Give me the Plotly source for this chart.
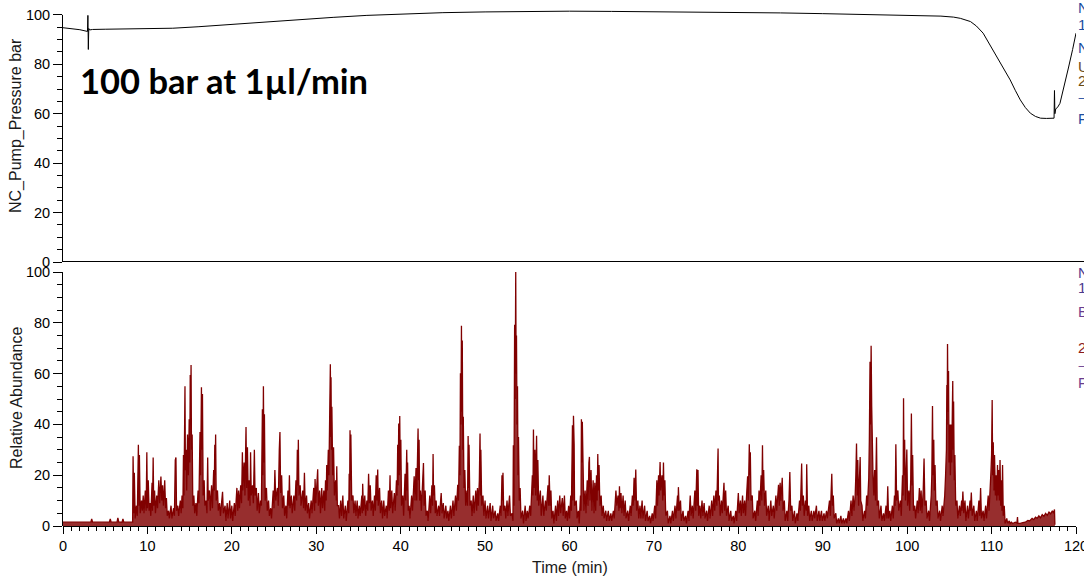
import plotly.graph_objects as go

# ---------------- data ----------------
# NC pump pressure (bar) vs time (min)
press_rt = [0, 1, 2, 2.9, 2.95, 3.0, 3.05, 3.15, 3.5, 5, 8, 10, 13, 16, 20, 24, 28, 32, 36, 40,
            45, 50, 55, 60, 65, 70, 75, 80, 85, 90, 95, 99, 102, 104, 105.5, 106.3, 107.5, 108.2,
            109.0, 109.8, 110.6, 111.4, 112.2, 112.8, 113.4, 114.0, 114.6, 115.2, 115.8, 116.5,
            117.4, 117.45, 117.5, 117.6, 117.8, 118.1, 118.6, 119.1, 119.6, 120]
press_bar = [94.8, 94.5, 94.0, 93.3, 99.8, 86.0, 94.5, 93.9, 94.1, 94.2, 94.3, 94.4, 94.6, 95.2,
             96.2, 97.2, 98.0, 99.0, 99.8, 100.4, 100.9, 101.2, 101.4, 101.5, 101.4, 101.3, 101.2,
             101.0, 100.8, 100.5, 100.2, 100.0, 99.8, 99.5, 99.1, 98.6, 97.3, 95.5, 92.6, 88.0,
             83.1, 78.3, 73.7, 69.5, 65.6, 62.5, 60.2, 58.9, 58.2, 58.1, 58.2, 69.4, 60, 62, 62.5,
             64.2, 71, 78.5, 86, 92.6]

# Base peak chromatogram (relative abundance) vs time (min)
chrom_rt = [
    0, 3.3, 3.4, 3.5, 5.5, 5.6, 5.7, 6.4, 6.5, 6.6, 7.0, 7.1, 7.2, 8.2,
    8.25, 8.3, 8.4, 8.45, 8.55, 8.7, 8.8, 8.93, 9.0, 9.05,
    9.15, 9.3, 9.4, 9.5, 9.6, 9.75, 9.85, 9.93, 10.0, 10.1,
    10.2, 10.3, 10.4, 10.55, 10.6, 10.68, 10.75, 10.85, 10.95, 11.1,
    11.2, 11.35, 11.45, 11.6, 11.7, 11.8, 11.9, 12.05, 12.15, 12.25,
    12.35, 12.5, 12.6, 12.8, 12.9, 13.1, 13.2, 13.3, 13.38, 13.45,
    13.6, 13.7, 13.9, 14.0, 14.1, 14.2, 14.27, 14.33, 14.45, 14.5,
    14.6, 14.65, 14.75, 14.85, 14.95, 15.02, 15.07, 15.12, 15.17, 15.22,
    15.3, 15.38, 15.5, 15.6, 15.75, 15.85, 16.0, 16.1, 16.23, 16.3,
    16.4, 16.45, 16.52, 16.6, 16.72, 16.8, 16.95, 17.05, 17.14, 17.2,
    17.35, 17.45, 17.6, 17.7, 17.85, 17.92, 17.98, 18.02, 18.08, 18.15,
    18.3, 18.4, 18.55, 18.65, 18.9, 19.0, 19.2, 19.3, 19.45, 19.55,
    19.75, 19.85, 20.0, 20.1, 20.3, 20.4, 20.6, 20.7, 20.8, 20.9,
    21.05, 21.15, 21.25, 21.3, 21.45, 21.55, 21.68, 21.75, 21.85, 21.95,
    22.05, 22.15, 22.22, 22.3, 22.45, 22.55, 22.67, 22.75, 22.9, 23.0,
    23.15, 23.25, 23.4, 23.5, 23.62, 23.68, 23.74, 23.8, 23.86, 23.95,
    24.1, 24.2, 24.35, 24.45, 24.6, 24.7, 24.9, 25.0, 25.1, 25.2,
    25.4, 25.5, 25.62, 25.7, 25.78, 25.9, 26.0, 26.15, 26.25, 26.4,
    26.5, 26.65, 26.75, 26.82, 26.9, 27.05, 27.15, 27.35, 27.45, 27.6,
    27.68, 27.76, 27.82, 27.88, 27.95, 28.1, 28.2, 28.4, 28.5, 28.6,
    28.7, 28.85, 28.95, 29.1, 29.2, 29.4, 29.5, 29.7, 29.8, 29.86,
    29.95, 30.06, 30.17, 30.25, 30.4, 30.5, 30.65, 30.75, 30.9, 31.0,
    31.1, 31.18, 31.24, 31.3, 31.43, 31.5, 31.55, 31.6, 31.67, 31.72,
    31.75, 31.8, 31.85, 31.95, 32.05, 32.15, 32.3, 32.38, 32.43, 32.5,
    32.65, 32.75, 32.9, 33.0, 33.15, 33.25, 33.45, 33.55, 33.75, 33.85,
    33.9, 33.95, 34.0, 34.05, 34.1, 34.2, 34.35, 34.45, 34.6, 34.7,
    34.85, 34.95, 35.1, 35.2, 35.4, 35.45, 35.5, 35.6, 35.75, 35.85,
    36.0, 36.1, 36.2, 36.3, 36.4, 36.5, 36.65, 36.75, 36.9, 37.0,
    37.1, 37.2, 37.28, 37.35, 37.5, 37.6, 37.75, 37.85, 38.0, 38.1,
    38.3, 38.4, 38.55, 38.65, 38.74, 38.8, 38.95, 39.05, 39.25, 39.35,
    39.5, 39.58, 39.65, 39.7, 39.77, 39.83, 39.89, 39.95, 40.02, 40.1,
    40.25, 40.35, 40.52, 40.6, 40.72, 40.78, 40.82, 40.9, 41.0, 41.1,
    41.3, 41.4, 41.6, 41.7, 41.82, 41.9, 42.06, 42.12, 42.18, 42.25,
    42.35, 42.45, 42.7, 42.78, 42.9, 43.0, 43.15, 43.25, 43.45, 43.55,
    43.7, 43.78, 43.84, 43.9, 44.0, 44.1, 44.2, 44.3, 44.5, 44.6,
    44.8, 44.9, 45.05, 45.15, 45.35, 45.45, 45.6, 45.7, 45.9, 46.0,
    46.2, 46.3, 46.5, 46.6, 46.76, 46.85, 46.95, 47.02, 47.08, 47.14,
    47.2, 47.25, 47.3, 47.36, 47.42, 47.5, 47.6, 47.7, 47.85, 47.92,
    47.99, 48.05, 48.1, 48.2, 48.35, 48.45, 48.6, 48.7, 48.9, 49.0,
    49.1, 49.2, 49.32, 49.4, 49.46, 49.5, 49.6, 49.75, 49.85, 50.0,
    50.1, 50.3, 50.4, 50.6, 50.7, 50.9, 51.0, 51.2, 51.3, 51.5,
    51.6, 51.8, 51.9, 52.0, 52.05, 52.12, 52.2, 52.35, 52.45, 52.6,
    52.7, 52.9, 53.0, 53.2, 53.3, 53.35, 53.42, 53.5, 53.56, 53.63,
    53.68, 53.72, 53.78, 53.84, 53.9, 53.96, 54.05, 54.15, 54.25, 54.45,
    54.55, 54.75, 54.85, 55.0, 55.1, 55.3, 55.4, 55.6, 55.67, 55.73,
    55.8, 55.9, 55.98, 56.1, 56.18, 56.25, 56.35, 56.55, 56.65, 56.85,
    56.95, 57.15, 57.25, 57.45, 57.52, 57.6, 57.7, 57.8, 57.9, 58.05,
    58.15, 58.35, 58.45, 58.6, 58.7, 58.85, 58.95, 59.15, 59.25, 59.4,
    59.5, 59.65, 59.75, 59.9, 60.0, 60.15, 60.22, 60.3, 60.35, 60.4,
    60.47, 60.55, 60.6, 60.8, 60.9, 61.05, 61.15, 61.3, 61.36, 61.41,
    61.47, 61.52, 61.58, 61.62, 61.7, 61.85, 61.95, 62.1, 62.2, 62.3,
    62.36, 62.42, 62.55, 62.65, 62.8, 62.9, 63.0, 63.1, 63.2, 63.28,
    63.35, 63.42, 63.5, 63.6, 63.75, 63.85, 64.0, 64.1, 64.3, 64.4,
    64.6, 64.7, 64.9, 65.0, 65.2, 65.3, 65.5, 65.6, 65.75, 65.85,
    65.92, 66.0, 66.1, 66.2, 66.35, 66.45, 66.6, 66.7, 66.9, 67.0,
    67.2, 67.3, 67.45, 67.55, 67.65, 67.75, 67.85, 67.95, 68.1, 68.2,
    68.35, 68.45, 68.6, 68.7, 68.9, 69.0, 69.2, 69.3, 69.5, 69.6,
    69.8, 69.9, 70.1, 70.2, 70.35, 70.42, 70.55, 70.62, 70.73, 70.8,
    70.95, 71.05, 71.13, 71.2, 71.3, 71.4, 71.6, 71.7, 71.9, 72.0,
    72.2, 72.3, 72.5, 72.6, 72.8, 72.85, 72.9, 73.0, 73.15, 73.25,
    73.45, 73.55, 73.75, 73.85, 74.05, 74.15, 74.3, 74.4, 74.55, 74.65,
    74.85, 74.95, 75.08, 75.15, 75.22, 75.3, 75.45, 75.55, 75.7, 75.8,
    75.95, 76.05, 76.25, 76.35, 76.55, 76.65, 76.85, 76.95, 77.1, 77.2,
    77.35, 77.45, 77.6, 77.65, 77.75, 77.85, 78.0, 78.1, 78.3, 78.38,
    78.5, 78.6, 78.8, 78.9, 79.1, 79.2, 79.4, 79.5, 79.7, 79.8,
    80.0, 80.1, 80.25, 80.35, 80.5, 80.6, 80.75, 80.85, 81.0, 81.1,
    81.18, 81.3, 81.36, 81.42, 81.5, 81.65, 81.75, 81.95, 82.05, 82.25,
    82.35, 82.45, 82.55, 82.7, 82.78, 82.86, 82.92, 83.0, 83.1, 83.25,
    83.35, 83.55, 83.65, 83.85, 83.95, 84.15, 84.25, 84.45, 84.55, 84.7,
    84.76, 84.85, 84.95, 85.05, 85.2, 85.3, 85.45, 85.55, 85.75, 85.85,
    86.0, 86.1, 86.2, 86.35, 86.45, 86.65, 86.75, 86.95, 87.05, 87.25,
    87.35, 87.5, 87.58, 87.7, 87.8, 87.95, 88.05, 88.1, 88.2, 88.35,
    88.45, 88.65, 88.75, 88.95, 89.05, 89.25, 89.35, 89.55, 89.65, 89.85,
    89.95, 90.15, 90.25, 90.45, 90.55, 90.8, 90.9, 91.0, 91.07, 91.15,
    91.25, 91.35, 91.55, 91.65, 91.85, 91.95, 92.15, 92.25, 92.45, 92.55,
    92.75, 92.85, 93.05, 93.15, 93.35, 93.45, 93.6, 93.7, 93.84, 93.92,
    94.0, 94.08, 94.15, 94.25, 94.35, 94.43, 94.5, 94.65, 94.75, 94.95,
    95.05, 95.2, 95.3, 95.45, 95.52, 95.6, 95.66, 95.73, 95.8, 95.86,
    95.95, 96.05, 96.15, 96.25, 96.37, 96.45, 96.6, 96.7, 96.9, 97.0,
    97.2, 97.3, 97.5, 97.6, 97.7, 97.8, 97.95, 98.05, 98.25, 98.35,
    98.5, 98.58, 98.66, 98.75, 98.9, 99.0, 99.2, 99.3, 99.45, 99.52,
    99.57, 99.63, 99.7, 99.8, 99.9, 99.96, 100.05, 100.2, 100.3, 100.42,
    100.5, 100.58, 100.65, 100.75, 100.9, 101.0, 101.2, 101.3, 101.45, 101.55,
    101.65, 101.75, 101.9, 102.0, 102.1, 102.25, 102.35, 102.55, 102.65, 102.85,
    102.92, 103.0, 103.07, 103.15, 103.22, 103.3, 103.4, 103.55, 103.65, 103.85,
    103.95, 104.15, 104.25, 104.45, 104.55, 104.65, 104.7, 104.74, 104.78, 104.84,
    104.9, 104.96, 105.05, 105.12, 105.2, 105.28, 105.35, 105.4, 105.45, 105.5,
    105.58, 105.65, 105.75, 105.9, 106.0, 106.2, 106.3, 106.45, 106.5, 106.6,
    106.7, 106.85, 106.95, 107.15, 107.25, 107.45, 107.5, 107.6, 107.7, 107.9,
    108.0, 108.2, 108.3, 108.5, 108.6, 108.7, 108.8, 109.0, 109.1, 109.3,
    109.4, 109.6, 109.7, 109.85, 109.92, 110.0, 110.07, 110.13, 110.2, 110.28,
    110.35, 110.45, 110.55, 110.62, 110.7, 110.78, 110.85, 110.92, 111.0, 111.08,
    111.15, 111.22, 111.3, 111.38, 111.5, 111.6, 111.8, 111.9, 112.1, 112.2,
    112.35, 112.5, 112.8, 113.0, 113.07, 113.12, 113.4, 113.7, 114.0, 114.3,
    114.5, 114.8, 115.0, 115.2, 115.4, 115.6, 115.8, 116.0, 116.2, 116.4,
    116.6, 116.8, 117.0, 117.2, 117.35, 117.45, 117.5,
]
chrom_ab = [
    1.5, 1.5, 2.8, 1.5, 1.6, 2.8, 1.5, 1.5, 3.2, 1.6, 1.5, 2.8, 1.5, 1.5,
    1.5, 27.5, 5, 21, 3, 8, 4, 32, 8, 28,
    5, 10, 6, 12, 5, 14, 6, 29, 7, 18,
    6, 9, 4, 17, 6, 27, 8, 14, 5, 12,
    7, 18, 9, 19.5, 10, 16, 8, 18, 7, 11,
    4, 6, 3, 8, 3, 7, 4, 26, 27, 6,
    8, 4, 10, 5, 12, 7, 28, 12, 55, 22,
    30, 14, 36, 20, 42, 25, 59.5, 40, 63.4, 30,
    36, 8, 12, 5, 9, 4, 14, 9, 37, 20,
    54.6, 30, 52, 12, 18, 8, 10, 5, 27, 10,
    14, 6, 16, 7, 22, 14, 32, 20, 36, 10,
    14, 6, 9, 4, 13.5, 5, 8, 2, 9, 3,
    10, 3, 8, 2, 9, 4, 15, 6, 14, 7,
    16, 9, 29, 14, 25, 12, 39, 15, 31, 10,
    18, 8, 29, 12, 16, 9, 30, 12, 15, 6,
    13, 5, 10, 8, 46, 20, 55, 25, 44, 10,
    15, 6, 10, 4, 7, 3, 14, 7, 22, 10,
    15, 8, 30, 37, 13, 20, 7, 12, 4, 8,
    3, 14, 8, 20, 7, 12, 5, 12, 6, 18,
    10, 30, 16, 34, 12, 16, 8, 14, 7, 21,
    6, 12, 5, 9, 3, 10, 5, 15, 6, 18.5,
    9, 20, 22.3, 8, 14, 5, 15, 7, 14, 6,
    18, 10, 24, 14, 30, 20, 46, 28, 63.7, 35,
    58.6, 30, 47, 20, 31, 12, 18, 10, 23.5, 8,
    8, 3, 10, 4, 12, 3, 8, 2, 10, 5,
    20.6, 10, 37.7, 18, 36, 10, 12, 5, 10, 4,
    10, 3, 8, 4, 12, 5, 16.6, 6, 12, 4,
    10, 6, 20.6, 9, 16, 6, 10, 4, 12, 6,
    20, 10, 22.2, 8, 15, 5, 10, 3, 10, 4,
    8, 3, 14, 6, 20, 7, 14, 5, 13, 6,
    18, 12, 32, 16, 40.4, 20, 43.3, 22, 34, 8,
    12, 4, 20.6, 10, 30, 14, 25, 6, 8, 3,
    12, 6, 19.6, 10, 22.8, 10, 38.4, 18, 34, 10,
    14, 6, 24.8, 8, 14, 4, 6, 2, 12, 5,
    16, 8, 28.3, 12, 16, 5, 10, 4, 8, 4,
    13, 5, 9, 3, 8, 3, 6, 2, 8, 3,
    10, 4, 12, 6, 16.2, 10, 31.6, 20, 60.1, 40,
    78.9, 45, 73, 30, 43, 15, 22, 8, 14, 8,
    35.4, 15, 32, 8, 10, 4, 12, 5, 14, 6,
    15, 8, 18, 36.4, 12, 30, 8, 12, 4, 10,
    3, 8, 3, 9, 2, 8, 3, 6, 2, 5,
    2, 8, 4, 20, 10, 21, 6, 8, 3, 10,
    4, 12, 4, 5, 2, 31.8, 8, 79.2, 50, 100,
    60, 75, 40, 55, 20, 35, 10, 15, 3, 6,
    1, 8, 2, 6, 3, 8, 4, 20, 12, 38,
    15, 30, 12, 35.5, 10, 26, 8, 14, 4, 12,
    4, 10, 6, 16, 8, 20, 8, 14, 3, 6,
    1, 8, 2, 10, 4, 12, 5, 11, 4, 12,
    3, 6, 2, 8, 3, 12, 6, 36, 39.7, 10,
    43.4, 32, 8, 10, 3, 6, 1, 12, 6, 42,
    25, 41, 20, 34, 6, 14, 5, 18, 8, 25,
    27.2, 10, 22, 6, 18, 5, 17, 6, 20, 10,
    28.3, 14, 24, 8, 12, 4, 8, 3, 6, 2,
    6, 2, 5, 2, 6, 3, 14, 8, 12, 6,
    15.6, 7, 13, 5, 12, 4, 10, 3, 6, 2,
    8, 4, 12, 8, 19, 10, 22.2, 6, 10, 3,
    8, 3, 10, 3, 8, 2, 6, 2, 4, 1,
    5, 2, 8, 3, 18, 8, 20, 12, 25.2, 14,
    20, 10, 25, 12, 18, 4, 6, 1, 4, 1,
    6, 2, 8, 3, 12, 6, 15.3, 6, 10, 2,
    6, 2, 4, 1, 6, 2, 12, 4, 8, 3,
    14, 6, 22.3, 8, 22, 4, 8, 3, 10, 4,
    9, 3, 6, 2, 8, 3, 10, 4, 12, 6,
    14, 8, 30.5, 10, 12, 4, 10, 5, 17, 6,
    14, 4, 8, 2, 6, 2, 4, 1, 6, 2,
    13, 5, 10, 4, 12, 5, 10, 4, 14, 19.6,
    10, 32.2, 20, 29, 10, 12, 3, 6, 2, 10,
    4, 14, 8, 20, 10, 31.8, 14, 22, 8, 14,
    4, 8, 2, 10, 4, 8, 3, 12, 6, 14,
    16.2, 8, 17, 10, 19, 6, 10, 2, 6, 2,
    10, 21.3, 6, 8, 2, 6, 1, 5, 2, 10,
    6, 24.6, 8, 12, 4, 10, 6, 24.3, 4, 8,
    2, 6, 2, 6, 3, 8, 2, 6, 2, 6,
    2, 5, 2, 6, 3, 10, 4, 14, 20.6, 8,
    12, 3, 5, 1, 3, 1, 4, 1, 3, 1,
    3, 1, 6, 2, 10, 4, 12, 6, 12, 20,
    32.5, 12, 26, 8, 20, 27.2, 10, 8, 2, 6,
    3, 12, 8, 19, 34, 64.7, 40, 71, 47, 30,
    20, 12, 22, 10, 34.9, 8, 10, 3, 8, 2,
    5, 2, 8, 3, 15.6, 3, 6, 2, 8, 3,
    12, 8, 32.2, 10, 14, 6, 10, 4, 20, 12,
    50.3, 20, 34, 10, 22, 30.1, 8, 14, 6, 18,
    44.3, 16, 28, 6, 8, 3, 10, 5, 15, 6,
    14, 5, 14, 26.6, 8, 10, 3, 6, 2, 12,
    20, 47.2, 20, 34, 14, 24, 8, 10, 3, 6,
    2, 8, 4, 12, 20, 30, 55.5, 40, 71.7, 45,
    61, 25, 40, 20, 40, 25, 45, 57.1, 30, 49,
    18, 28, 8, 10, 3, 8, 4, 10, 6, 13.6,
    5, 10, 2, 8, 3, 10, 6, 13.2, 4, 8,
    2, 6, 2, 10, 4, 15, 3, 6, 2, 8,
    3, 12, 6, 14, 21, 28, 49.6, 20, 33, 14,
    28, 12, 20, 10, 24, 12, 22, 10, 26, 8,
    18, 6, 24, 4, 8, 1, 3, 1, 2, 1,
    1.5, 1, 1.5, 1.2, 3.5, 1, 1, 1.3, 1.5, 2.2,
    2, 3, 2.5, 3.5, 3, 4, 3.2, 4.5, 3.8, 5,
    4.2, 5.5, 4.8, 6, 5, 6.5, 0.5,
]
assert len(chrom_rt) == len(chrom_ab), (len(chrom_rt), len(chrom_ab))

y_ticks = [0, 20, 40, 60, 80, 100]
x_ticks = [0, 10, 20, 30, 40, 50, 60, 70, 80, 90, 100, 110, 120]

# ---------------- figure ----------------
W, H = 1084, 584
ML, MR, MT, MB = 63, 8, 2, 58
PW, PH = W - ML - MR, H - MT - MB

def py(p):   # pixel row -> paper y
    return (H - MB - p) / PH

def px(p):   # pixel column -> paper x
    return (p - ML) / PW

FONT = "Liberation Sans, Arial, sans-serif"

fig = go.Figure()
fig.add_trace(go.Scatter(x=press_rt, y=press_bar, mode="lines", xaxis="x", yaxis="y2",
                         line=dict(color="black", width=1), hoverinfo="skip"))
fig.add_trace(go.Scatter(x=chrom_rt, y=chrom_ab, mode="lines", xaxis="x", yaxis="y",
                         line=dict(color="#800000", width=1.3), fill="tozeroy",
                         fillcolor="rgba(128,0,0,0.82)", hoverinfo="skip"))

axis_common = dict(showgrid=False, zeroline=False, ticks="outside", tickcolor="black",
                   automargin=False, ticklabeloverflow="allow",
                   tickfont=dict(family=FONT, size=14.5, color="black"))

fig.update_layout(
    width=W, height=H, margin=dict(l=ML, r=MR, t=MT, b=MB, autoexpand=False),
    paper_bgcolor="white", plot_bgcolor="white", showlegend=False,
    xaxis=dict(range=[0, 120], tickvals=x_ticks, ticklen=7, showline=True, linecolor="black",
               linewidth=1, anchor="y",
               minor=dict(dtick=1, ticks="outside", ticklen=4, tickcolor="black"),
               **axis_common),
    yaxis=dict(domain=[0, py(269.5)], range=[0, 101], tickvals=y_ticks, ticklen=9,
               showline=False, anchor="x",
               minor=dict(dtick=5, ticks="outside", ticklen=5, tickcolor="black"),
               **axis_common),
    yaxis2=dict(domain=[py(262), py(5)], range=[0, 104], tickvals=y_ticks, ticklen=9,
                showline=False, anchor="x",
                minor=dict(dtick=5, ticks="outside", ticklen=5, tickcolor="black"),
                **axis_common),
)

# axis lines (placed on half pixels so they render crisp)
fig.add_shape(type="line", xref="paper", yref="y2", x0=px(62.5), x1=px(62.5), y0=0, y1=100,
              line=dict(color="black", width=1))
fig.add_shape(type="line", xref="paper", yref="paper", x0=px(62), x1=1.02,
              y0=py(261.5), y1=py(261.5), line=dict(color="black", width=1))
fig.add_shape(type="line", xref="paper", yref="y", x0=px(62.5), x1=px(62.5), y0=0, y1=100,
              line=dict(color="black", width=1))

ann = []
ann.append(dict(text="NC_Pump_Pressure bar", x=px(16), y=py(126), textangle=-90))
ann.append(dict(text="Relative Abundance", x=px(16), y=py(398), textangle=-90))
ann.append(dict(text="Time (min)", x=px(570), y=py(567)))
for a in ann:
    a.update(xref="paper", yref="paper", showarrow=False, xanchor="center", yanchor="middle",
             font=dict(family=FONT, size=16, color="#1a1a1a"))
    fig.add_annotation(**a)

fig.add_annotation(text="100 bar at 1µl/min", xref="paper", yref="paper",
                   x=px(78), y=py(81), xanchor="left", yanchor="middle", showarrow=False,
                   font=dict(family="Lato, Open Sans, sans-serif", size=34.5, color="black",
                             weight="bold"))

# right-edge labels (cut off by the window, as in the original)
side = [
    (8, "NL:", "#1c4da1"), (24, "1.02E2", "#1c4da1"), (47, "NC_Pump_Pressure", "#1c4da1"),
    (67, "UV", "#6b4a14"), (81, "2021", "#6b4a14"), (104, "‾", "#1c4da1"), (118, "Fxx", "#1c4da1"),
    (272, "NL:", "#4b3a8f"), (287, "1.00E9", "#4b3a8f"), (311, "Base Peak", "#6a3d8f"),
    (348, "2021", "#8b1a1a"), (372, "‾", "#6a3d8f"), (382, "Fxx", "#6a3d8f"),
]
for yy, t, c in side:
    fig.add_annotation(text=t, xref="paper", yref="paper", x=px(1076), y=py(yy),
                       xanchor="left", yanchor="middle", showarrow=False,
                       font=dict(family=FONT, size=15, color=c))

fig.write_html("out.html", config={"displayModeBar": False},
               post_script="document.body.style.margin='0';document.body.style.overflow='hidden';")
